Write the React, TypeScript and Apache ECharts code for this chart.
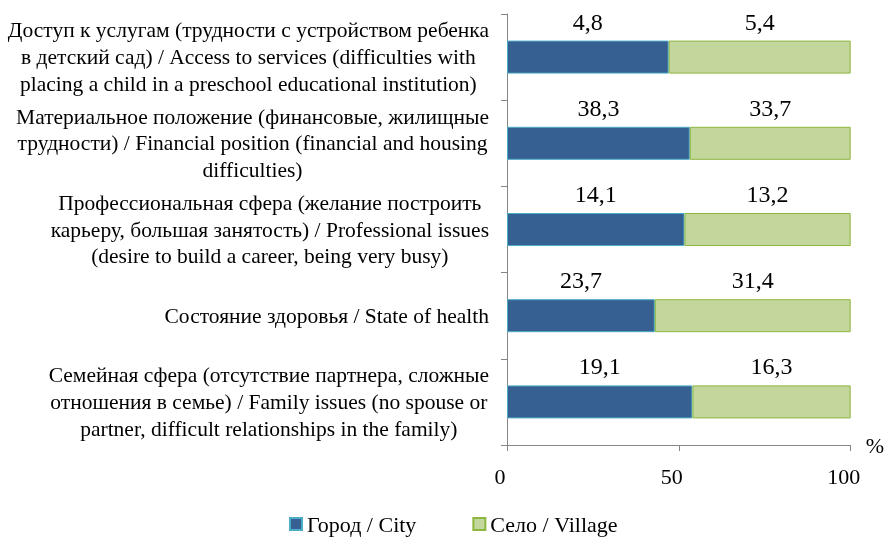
import React, { useEffect, useRef } from "react";
import * as echarts from "echarts";

const categories: string[] = [
  "Доступ к услугам (трудности с устройством ребенка\nв детский сад) / Access to services (difficulties with\nplacing a child in a preschool educational institution)",
  "Материальное положение (финансовые, жилищные\nтрудности) / Financial position (financial and housing\ndifficulties)",
  "Профессиональная сфера (желание построить\nкарьеру, большая занятость) / Professional issues\n(desire to build a career, being very busy)",
  "Состояние здоровья / State of health",
  "Семейная сфера (отсутствие партнера, сложные\nотношения в семье) / Family issues (no spouse or\npartner, difficult relationships in the family)",
];

const cityValues: number[] = [4.8, 38.3, 14.1, 23.7, 19.1];
const villageValues: number[] = [5.4, 33.7, 13.2, 31.4, 16.3];

const seriesNames: string[] = ["Город / City", "Село / Village"];
const xTicks: number[] = [0, 50, 100];

export default function App() {
  const ref = useRef<HTMLDivElement>(null);

  useEffect(() => {
    if (!ref.current) return;
    const chart = echarts.init(ref.current, undefined, { renderer: "svg" });

    const totals = cityValues.map((v, i) => v + villageValues[i]);
    const cityPct = cityValues.map((v, i) => (v / totals[i]) * 100);
    const villagePct = villageValues.map((v, i) => (v / totals[i]) * 100);
    const fmt = (n: number) => n.toFixed(1).replace(".", ",");

    chart.setOption({
      animation: false,
      grid: { left: 507, right: 34, top: 14, bottom: 94 },
      xAxis: {
        type: "value",
        min: xTicks[0],
        max: xTicks[xTicks.length - 1],
        interval: xTicks[1] - xTicks[0],
        name: "%",
        nameLocation: "end",
        nameGap: 15,
        nameTextStyle: { fontFamily: "serif", fontSize: 22, color: "#000", padding: [0, 0, 8, 0] },
        axisLine: { show: true, lineStyle: { color: "#868686" } },
        axisTick: { show: true, length: 6, lineStyle: { color: "#868686" } },
        splitLine: { show: false },
        axisLabel: { fontFamily: "serif", fontSize: 22, color: "#000", margin: 20, padding: [0, 14, 0, 0] },
      },
      yAxis: {
        type: "category",
        inverse: true,
        data: categories,
        axisLine: { show: true, lineStyle: { color: "#868686" } },
        axisTick: { show: true, length: 6, lineStyle: { color: "#868686" } },
        splitLine: { show: false },
        axisLabel: {
          fontFamily: "serif",
          fontSize: 21.5,
          color: "#000",
          margin: 18,
          lineHeight: 26.7,
          formatter: (v: string) =>
            v
              .split("\n")
              .map((l) => "{c|" + l + "}")
              .join("\n"),
          rich: {
            c: { fontFamily: "serif", fontSize: 21.5, color: "#000", lineHeight: 26.7, align: "center" },
          },
        },
      },
      legend: {
        left: 284,
        top: 508,
        icon: "rect",
        itemWidth: 12,
        itemHeight: 12,
        itemGap: 56,
        textStyle: { fontFamily: "serif", fontSize: 22, color: "#000" },
        data: seriesNames,
      },
      series: [
        {
          name: seriesNames[0],
          type: "bar",
          stack: "total",
          barWidth: 33,
          data: cityPct,
          itemStyle: { color: "#376092", borderColor: "#4BACC6", borderWidth: 1 },
          label: {
            show: true,
            position: "top",
            distance: 7,
            fontFamily: "serif",
            fontSize: 24,
            color: "#000",
            formatter: (p: any) => fmt(cityValues[p.dataIndex]),
          },
        },
        {
          name: seriesNames[1],
          type: "bar",
          stack: "total",
          barWidth: 33,
          data: villagePct,
          itemStyle: { color: "#C3D69B", borderColor: "#8DB63F", borderWidth: 1 },
          label: {
            show: true,
            position: "top",
            distance: 7,
            fontFamily: "serif",
            fontSize: 24,
            color: "#000",
            formatter: (p: any) => fmt(villageValues[p.dataIndex]),
          },
        },
      ],
    });

    return () => chart.dispose();
  }, []);

  return <div ref={ref} style={{ position: "fixed", left: 0, top: 0, width: 887, height: 539 }} />;
}
